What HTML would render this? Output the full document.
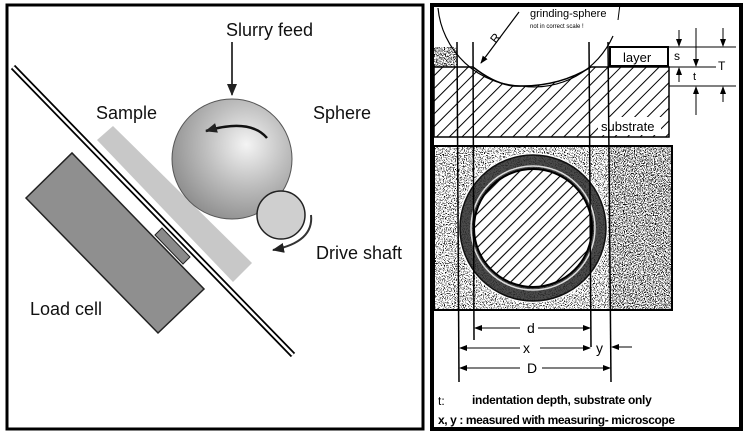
<!DOCTYPE html>
<html><head><meta charset="utf-8"><style>
html,body{margin:0;padding:0;background:#fff;width:747px;height:437px;overflow:hidden}
svg{display:block;font-family:"Liberation Sans",sans-serif}
</style></head><body>
<svg width="747" height="437" viewBox="0 0 747 437" xmlns="http://www.w3.org/2000/svg">
<defs>
<radialGradient id="sph" cx="0.62" cy="0.38" r="0.7">
<stop offset="0" stop-color="#f4f4f4"/><stop offset="0.5" stop-color="#bdbdbd"/><stop offset="1" stop-color="#8a8a8a"/>
</radialGradient>
<pattern id="hatch" width="9" height="9" patternUnits="userSpaceOnUse" patternTransform="rotate(45)">
<rect width="9" height="9" fill="#fff"/><line x1="0" y1="0" x2="0" y2="9" stroke="#000" stroke-width="2"/>
</pattern>
<pattern id="hatch2" width="8" height="8" patternUnits="userSpaceOnUse" patternTransform="rotate(45)">
<rect width="8" height="8" fill="#fff"/><line x1="0" y1="0" x2="0" y2="8" stroke="#000" stroke-width="2.2"/>
</pattern>
<filter id="speckL" x="0" y="0" width="1" height="1">
<feTurbulence type="fractalNoise" baseFrequency="0.9" numOctaves="2" seed="3"/>
<feColorMatrix type="matrix" values="0 0 0 0 0  0 0 0 0 0  0 0 0 0 0  0 0 0 -9 4.1"/>
<feComposite in2="SourceGraphic" operator="in"/>
</filter>
<filter id="speckD" x="0" y="0" width="1" height="1">
<feTurbulence type="fractalNoise" baseFrequency="0.9" numOctaves="2" seed="5"/>
<feColorMatrix type="matrix" values="0 0 0 0 0  0 0 0 0 0  0 0 0 0 0  0 0 0 -7 3.6"/>
<feComposite in2="SourceGraphic" operator="in"/>
</filter>
<marker id="ah" markerWidth="8" markerHeight="8" refX="7" refY="4" orient="auto" markerUnits="userSpaceOnUse">
<path d="M0,1 L8,4 L0,7 Z" fill="#000"/></marker>
<marker id="ah2" markerWidth="12" markerHeight="10" refX="11" refY="5" orient="auto" markerUnits="userSpaceOnUse">
<path d="M0,0 L12,5 L0,10 Z" fill="#222"/></marker>
</defs>

<!-- LEFT PANEL -->
<rect x="7" y="5" width="416" height="424" fill="#fff" stroke="#000" stroke-width="3"/>
<polygon points="113,126 252,263 233,282 97,140" fill="#c8c8c8"/>
<polygon points="26,198 72,153 204,289 158,333" fill="#8f8f8f" stroke="#222" stroke-width="1.5"/>
<polygon points="155,235 162,228 190,257 183,264" fill="#8a8a8a" stroke="#222" stroke-width="1"/>
<line x1="13" y1="67" x2="293" y2="355" stroke="#000" stroke-width="6"/>
<line x1="13" y1="67" x2="293" y2="355" stroke="#fff" stroke-width="2.5"/>
<circle cx="232" cy="159" r="60" fill="url(#sph)" stroke="#555" stroke-width="1"/>
<circle cx="281" cy="215" r="24" fill="#cfcfcf" stroke="#222" stroke-width="1.5"/>
<line x1="232" y1="42" x2="232" y2="95" stroke="#000" stroke-width="1.5" marker-end="url(#ah2)"/>
<path d="M267,138 Q250,118 206,131" fill="none" stroke="#111" stroke-width="2.5" marker-end="url(#ah2)"/>
<path d="M311,215 Q314,242 273,250" fill="none" stroke="#333" stroke-width="2" marker-end="url(#ah2)"/>
<text x="226" y="36" font-size="18" fill="#111">Slurry feed</text>
<text x="313" y="119" font-size="18" fill="#111">Sphere</text>
<text x="96" y="119" font-size="18" fill="#111">Sample</text>
<text x="316" y="259" font-size="18" fill="#111">Drive shaft</text>
<text x="30" y="315" font-size="18" fill="#111">Load cell</text>

<!-- RIGHT PANEL -->
<rect x="432" y="5" width="309" height="424" fill="#fff" stroke="#000" stroke-width="4"/>
<path d="M434,67 L473,67 Q500,88 522,86 Q560,86 591,67 L669,67 L669,137 L434,137 Z" fill="url(#hatch)" stroke="#000" stroke-width="1.5"/>
<rect x="434" y="47" width="23" height="20" fill="#888" filter="url(#speckD)"/>
<rect x="610" y="47" width="58" height="19" fill="#fff" stroke="#000" stroke-width="2"/>
<text x="623" y="62" font-size="13">layer</text>
<rect x="598" y="117" width="63" height="18" fill="#fff"/>
<text x="601" y="131" font-size="13">substrate</text>
<path d="M438,8 A86,86 0 0 0 522,86 A86,86 0 0 0 613,36" fill="none" stroke="#000" stroke-width="1.2"/>
<line x1="519" y1="12" x2="481" y2="63" stroke="#000" stroke-width="1.2" marker-end="url(#ah)"/>
<text x="490" y="40" font-size="12" transform="rotate(-52 497 36)">R</text>
<text x="530" y="17" font-size="11">grinding-sphere</text>
<text x="530" y="28" font-size="6">not in correct scale !</text>
<line x1="620" y1="4" x2="618" y2="20" stroke="#000" stroke-width="1"/>
<line x1="668" y1="47" x2="736" y2="47" stroke="#000" stroke-width="1"/>
<line x1="669" y1="67" x2="716" y2="67" stroke="#000" stroke-width="1"/>
<line x1="669" y1="86" x2="736" y2="86" stroke="#000" stroke-width="1"/>
<line x1="679" y1="30" x2="679" y2="46" stroke="#000" marker-end="url(#ah)"/>
<line x1="679" y1="82" x2="679" y2="68" stroke="#000" marker-end="url(#ah)"/>
<text x="674" y="60" font-size="12">s</text>
<line x1="696" y1="28" x2="696" y2="66" stroke="#000" marker-end="url(#ah)"/>
<line x1="696" y1="115" x2="696" y2="87" stroke="#000" marker-end="url(#ah)"/>
<text x="693" y="80" font-size="11">t</text>
<line x1="723" y1="28" x2="723" y2="46" stroke="#000" marker-end="url(#ah)"/>
<line x1="723" y1="102" x2="723" y2="87" stroke="#000" marker-end="url(#ah)"/>
<text x="718" y="70" font-size="12">T</text>
<!-- middle textured square -->
<rect x="434" y="146" width="238" height="164" fill="#fff" stroke="#000" stroke-width="2"/>
<rect x="435" y="147" width="173" height="162" fill="#333" filter="url(#speckL)"/>
<rect x="608" y="147" width="63" height="162" fill="#333" filter="url(#speckD)"/>
<circle cx="533" cy="228" r="75" fill="#fff"/>
<circle cx="533" cy="228" r="73" fill="#4a4a4a" stroke="#111" stroke-width="1.5"/>
<circle cx="533" cy="228" r="73" fill="#aaa" filter="url(#speckL)" opacity="0.5"/>
<circle cx="533" cy="228" r="62" fill="none" stroke="#ddd" stroke-width="1.5"/>
<circle cx="533" cy="228" r="59" fill="url(#hatch2)" stroke="#000" stroke-width="2"/>
<line x1="457" y1="42" x2="459" y2="382" stroke="#000" stroke-width="1.5"/>
<line x1="473" y1="42" x2="474" y2="340" stroke="#000" stroke-width="1.5"/>
<line x1="589" y1="42" x2="591" y2="347" stroke="#000" stroke-width="1.5"/>
<line x1="608" y1="42" x2="611" y2="382" stroke="#000" stroke-width="1.5"/>
<line x1="520" y1="328" x2="475" y2="328" stroke="#000" marker-end="url(#ah)"/>
<line x1="538" y1="328" x2="590" y2="328" stroke="#000" marker-end="url(#ah)"/>
<text x="527" y="333" font-size="14">d</text>
<line x1="520" y1="348" x2="460" y2="348" stroke="#000" marker-end="url(#ah)"/>
<line x1="540" y1="348" x2="590" y2="348" stroke="#000" marker-end="url(#ah)"/>
<text x="523" y="353" font-size="14">x</text>
<text x="596" y="353" font-size="14">y</text>
<line x1="632" y1="347" x2="612" y2="347" stroke="#000" marker-end="url(#ah)"/>
<line x1="520" y1="368" x2="460" y2="368" stroke="#000" marker-end="url(#ah)"/>
<line x1="542" y1="368" x2="610" y2="368" stroke="#000" marker-end="url(#ah)"/>
<text x="527" y="373" font-size="14">D</text>
<text x="438" y="405" font-size="12">t:</text>
<text x="472" y="404" font-size="12" font-weight="bold" letter-spacing="-0.3">indentation depth, substrate only</text>
<text x="438" y="424" font-size="12" font-weight="bold" letter-spacing="-0.4">x, y : measured with measuring- microscope</text>
</svg>
</body></html>
